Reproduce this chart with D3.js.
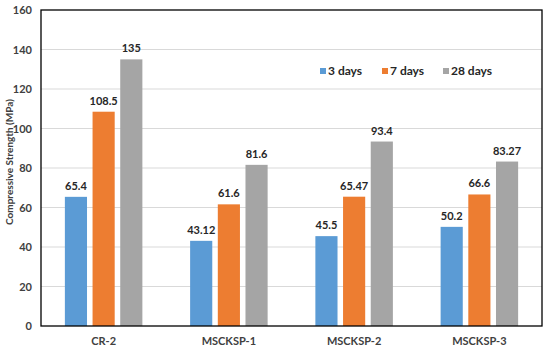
<!DOCTYPE html>
<html>
<head>
<meta charset="utf-8">
<script src="https://cdn.jsdelivr.net/npm/d3@7"></script>
<style>
  body { margin: 0; background: #fff; }
  text { font-family: Lato, "Open Sans", sans-serif; font-weight: bold; }
</style>
</head>
<body>
<div class="canvas"></div>
<script>
// data
const categories = ['CR-2', 'MSCKSP-1', 'MSCKSP-2', 'MSCKSP-3'];
const seriesNames = ['3 days', '7 days', '28 days'];
const days3 = [65.4, 43.12, 45.5, 50.2];
const days7 = [108.5, 61.6, 65.47, 66.6];
const days28 = [135, 81.6, 93.4, 83.27];
const yTicks = [0, 20, 40, 60, 80, 100, 120, 140, 160];
const valueLabels = [
    ['65.4', '43.12', '45.5', '50.2'],
    ['108.5', '61.6', '65.47', '66.6'],
    ['135', '81.6', '93.4', '83.27']
];

const colors = ['#5b9bd5', '#ed7d31', '#a5a5a5'];
const allSeries = [days3, days7, days28];

// svg
const svg = d3.select('.canvas')
    .append('svg')
        .attr('width', 550)
        .attr('height', 346);

const margin = {top: 10, right: 8, bottom: 20, left: 41};
const graphWidth = 550 - margin.left - margin.right;
const graphHeight = 346 - margin.top - margin.bottom;

const graph = svg.append('g')
    .attr('transform', `translate(${margin.left}, ${margin.top})`);

// scales
const y = d3.scaleLinear()
    .domain([0, 160])
    .range([graphHeight, 0]);

const x0 = d3.scaleBand()
    .domain(categories)
    .range([0, graphWidth])
    .paddingInner(0.337)
    .paddingOuter(0.1685);

const x1 = d3.scaleBand()
    .domain(seriesNames)
    .range([0, x0.bandwidth()])
    .paddingInner(0.2)
    .paddingOuter(0.1);

// gridlines
graph.append('g')
    .selectAll('line')
    .data(yTicks.filter(d => d > 0 && d < 160))
    .enter().append('line')
        .attr('x1', 0)
        .attr('x2', graphWidth)
        .attr('y1', d => y(d))
        .attr('y2', d => y(d))
        .attr('stroke', '#d9d9d9')
        .attr('stroke-width', 1);

// bars
const data = categories.map((c, i) => ({
    name: c,
    values: seriesNames.map((s, j) => ({series: s, value: allSeries[j][i], label: valueLabels[j][i], color: colors[j]}))
}));

const groups = graph.selectAll('g.group')
    .data(data)
    .enter().append('g')
        .attr('class', 'group')
        .attr('transform', d => `translate(${x0(d.name)}, 0)`);

groups.selectAll('rect')
    .data(d => d.values)
    .enter().append('rect')
        .attr('x', d => x1(d.series))
        .attr('width', x1.bandwidth())
        .attr('y', d => y(d.value))
        .attr('height', d => graphHeight - y(d.value))
        .attr('fill', d => d.color);

groups.selectAll('text.val')
    .data(d => d.values)
    .enter().append('text')
        .attr('class', 'val')
        .attr('x', d => x1(d.series) + x1.bandwidth() / 2)
        .attr('y', d => y(d.value) - 7)
        .attr('text-anchor', 'middle')
        .attr('font-size', 11)
        .attr('fill', '#262626')
        .text(d => d.label);

// frame
graph.append('rect')
    .attr('x', 0)
    .attr('y', 0)
    .attr('width', graphWidth)
    .attr('height', graphHeight)
    .attr('fill', 'none')
    .attr('stroke', '#000')
    .attr('stroke-width', 1.3);

// axes
const yAxis = d3.axisLeft(y).tickValues(yTicks).tickSize(0).tickPadding(9);
const xAxis = d3.axisBottom(x0).tickSize(0).tickPadding(11);

const yAxisGroup = graph.append('g').call(yAxis);
const xAxisGroup = graph.append('g')
    .attr('transform', `translate(0, ${graphHeight})`)
    .call(xAxis);

[yAxisGroup, xAxisGroup].forEach(g => {
    g.select('.domain').remove();
    g.selectAll('text')
        .attr('font-size', 11)
        .attr('fill', '#404040')
        .style('font-family', 'Lato, sans-serif')
        .style('font-weight', 'bold');
});

// axis title
svg.append('text')
    .attr('transform', `translate(13, ${margin.top + graphHeight / 2 - 6}) rotate(-90)`)
    .attr('text-anchor', 'middle')
    .attr('font-size', 10)
    .attr('fill', '#404040')
    .style('font-weight', 'bold')
    .text('Compressive Strength (MPa)');

// legend
const legendX = [320, 382, 443];
const legend = svg.append('g');
seriesNames.forEach((s, i) => {
    legend.append('rect')
        .attr('x', legendX[i])
        .attr('y', 68)
        .attr('width', 6)
        .attr('height', 6)
        .attr('fill', colors[i]);
    legend.append('text')
        .attr('x', legendX[i] + 8)
        .attr('y', 75)
        .attr('font-size', 12)
        .attr('fill', '#262626')
        .text(s);
});
</script>
</body>
</html>
